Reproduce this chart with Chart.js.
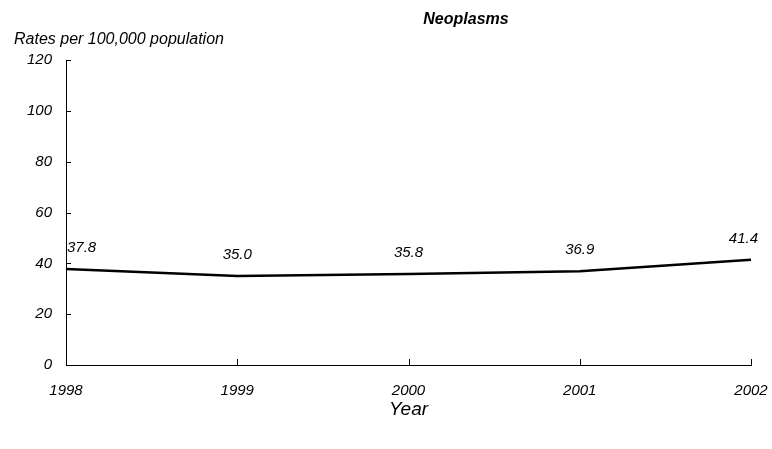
<!DOCTYPE html>
<html>
<head>
<meta charset="utf-8">
<script src="https://cdn.jsdelivr.net/npm/chart.js@4/dist/chart.umd.min.js"></script>
<style>
  html, body { margin: 0; padding: 0; background: #fff; }
  #wrap { width: 772px; height: 449px; }
</style>
</head>
<body>
<div id="wrap"><canvas id="chart"></canvas></div>
<script>
var years = ["1998", "1999", "2000", "2001", "2002"]
var rates = [37.8, 35.0, 35.8, 36.9, 41.4]
var yTicks = [0, 20, 40, 60, 80, 100, 120]

var FONT = "'Liberation Sans', Arial, sans-serif"

// inward tick marks, titles and value labels
var extras = {
    id: 'extras',
    afterDraw: function(chart) {
        var ctx = chart.ctx
        var area = chart.chartArea
        var xs = chart.scales.x
        var ys = chart.scales.y
        ctx.save()
        ctx.strokeStyle = '#000'
        ctx.lineWidth = 1
        yTicks.forEach(function(v) {
            var py = Math.round(ys.getPixelForValue(v)) + 0.5
            ctx.beginPath()
            ctx.moveTo(area.left, py)
            ctx.lineTo(area.left + 5, py)
            ctx.stroke()
        })
        years.forEach(function(y, i) {
            var px = Math.round(xs.getPixelForValue(i)) + 0.5
            ctx.beginPath()
            ctx.moveTo(px, area.bottom)
            ctx.lineTo(px, area.bottom - 6)
            ctx.stroke()
        })

        ctx.fillStyle = '#000'
        ctx.textBaseline = 'middle'
        ctx.font = 'italic 15px ' + FONT
        rates.forEach(function(v, i) {
            var px = xs.getPixelForValue(i)
            var py = ys.getPixelForValue(v) - 21
            if (i === 0) { ctx.textAlign = 'left'; px += 1 }
            else if (i === rates.length - 1) { ctx.textAlign = 'right'; px += 7 }
            else ctx.textAlign = 'center'
            ctx.fillText(v.toFixed(1), px, py)
        })

        ctx.textAlign = 'center'
        ctx.font = 'bold italic 16px ' + FONT
        ctx.fillText('Neoplasms', 466, 20)

        ctx.font = 'italic 19px ' + FONT
        ctx.fillText('Year', (area.left + area.right) / 2, 410)

        ctx.textAlign = 'left'
        ctx.font = 'italic 16px ' + FONT
        ctx.fillText('Rates per 100,000 population', 14, 40)
        ctx.restore()
    }
}

document.addEventListener("DOMContentLoaded", function() {
    var ctx = document.getElementById("chart").getContext('2d')
    new Chart(ctx, {
        type: 'line',
        data: {
            labels: years,
            datasets: [{
                data: rates,
                borderColor: '#000',
                borderWidth: 2.5,
                pointRadius: 0,
                tension: 0,
                fill: false
            }]
        },
        options: {
            responsive: true,
            maintainAspectRatio: false,
            animation: false,
            layout: { padding: { left: 0, right: 21, top: 60, bottom: 0 } },
            plugins: {
                legend: { display: false },
                tooltip: { enabled: false }
            },
            scales: {
                x: {
                    offset: false,
                    grid: { display: false },
                    border: { display: true, color: '#000', width: 1 },
                    ticks: {
                        color: '#000',
                        font: { family: FONT, size: 15, style: 'italic' },
                        padding: 9,
                        maxRotation: 0,
                        autoSkip: false
                    },
                    afterFit: function(s) {
                        s.height = 84
                        s.paddingLeft = 0
                        s.paddingRight = 0
                    }
                },
                y: {
                    min: 0,
                    max: 120,
                    grid: { display: false },
                    border: { display: true, color: '#000', width: 1 },
                    ticks: {
                        stepSize: 20,
                        color: '#000',
                        font: { family: FONT, size: 15, style: 'italic' },
                        padding: 6
                    },
                    afterFit: function(s) {
                        s.width = 66
                        s.paddingTop = 0
                        s.paddingBottom = 0
                    }
                }
            }
        },
        plugins: [extras]
    })
})
</script>
</body>
</html>
